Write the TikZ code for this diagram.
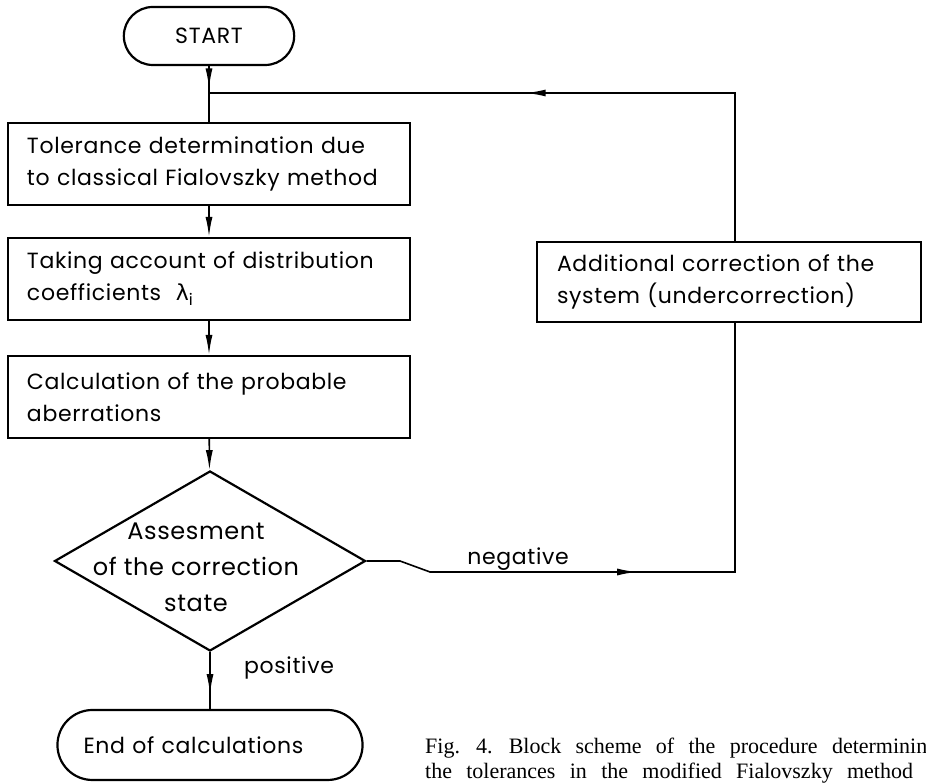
\documentclass[tikz,border=0pt]{standalone}
\usepackage{fontspec}
\setmainfont[LetterSpace=3]{Poppins}
\newfontfamily\widefont[LetterSpace=2.5]{Poppins}
\newfontfamily\greekfont{DejaVu Sans}
\newfontfamily\capfont{Liberation Serif}
\newcommand\capsetup{\capfont\fontsize{22}{25}\selectfont\spaceskip=0.65em\relax}
\usetikzlibrary{arrows.meta,positioning,calc,shapes.geometric,shapes.misc,decorations.markings}
\tikzset{>={Latex[length=20pt,width=7pt]},
  line/.style={line width=1.6pt},
  midarr/.style={postaction={decorate},decoration={markings,mark=at position #1 with {\arrow{>}}}},
  blk/.style={draw,line width=2.2pt,minimum width=402pt,minimum height=82pt,text width=364pt,
    inner xsep=19pt,align=left,font=\fontsize{22}{32}\selectfont},
  term/.style={draw,rounded rectangle,line width=2.2pt,font=\fontsize{22}{32}\selectfont},
  chk/.style={draw,diamond,line width=2.2pt,minimum width=311pt,minimum height=180pt,inner sep=0pt},
  lbl/.style={font=\fontsize{22}{36}\selectfont,align=center},
  figcap/.style={font=\capsetup,align=left,inner sep=0pt}}
\begin{document}
\begin{tikzpicture}[x=1pt,y=1pt]
\useasboundingbox (0,0) rectangle (926,783);
% left column
\node[term,minimum width=177pt,minimum height=58pt] (start) at (209,747) {START};
\coordinate (jn) at (209,690);
\node[blk] (tol) at (209,619) {Tolerance determination due\\to classical Fialovszky method};
\node[blk] (lam) at (209,504) {Taking account of distribution\\coefficients\ \ {\greekfont λ}\raisebox{-5pt}{\fontsize{16}{16}\selectfont i}};
\node[blk] (prob) at (209,386) {Calculation of the probable\\aberrations};
\node[chk] (test) at (210,222) {};
\node[lbl,font=\widefont\fontsize{24}{36}\selectfont] (testtxt) at (196,216) {Assesment\\of the correction\\state};
\node[term,minimum height=70pt,text width=253pt,align=left,inner xsep=25pt] (stop) at (210,38) {End of calculations};
% right column
\node[blk,minimum width=384pt,minimum height=80pt,text width=344pt,inner xsep=20pt] (extra) at (729,501)
  {Additional correction of the\\system (undercorrection)};
\coordinate (rt) at (735,690);
\coordinate (rb) at (735,211);
\coordinate (k1) at (400,222);
\coordinate (k2) at (430,211);
% connectors
\draw[line,midarr=0.40] (start) -- (tol);
\draw[line,->] (tol) -- (lam);
\draw[line,->] (lam) -- (prob);
\draw[line,->] (prob) -- (test);
\draw[line,midarr=0.74] (test) -- (stop);
\draw[line,midarr=0.44] (test.east) -- (k1) -- (k2) -- (rb) -- (extra.south -| rb);
\draw[line,midarr=0.53] (extra.north -| rt) -- (rt) -- (jn);
\node[lbl] (neg) at (518,224) {negative};
\node[lbl] (pos) at (289,115) {positive};
% caption
\node[figcap,anchor=north west] (fig) at (425,45) {Fig. 4. Block scheme of the procedure determining\\the tolerances in the modified Fialovszky method};
\end{tikzpicture}
\end{document}
